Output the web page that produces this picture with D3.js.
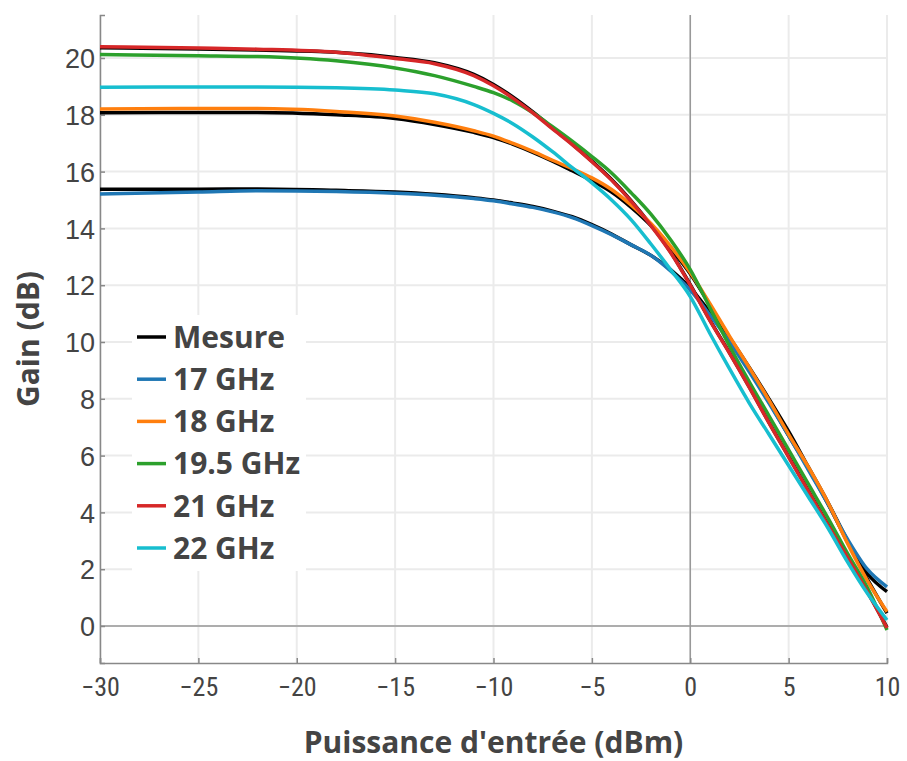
<!DOCTYPE html>
<html><head><meta charset="utf-8">
<script src="https://cdn.jsdelivr.net/npm/d3@7"></script>
<style>body{margin:0;background:#fff}svg{display:block}</style>
</head><body><svg id="c" width="907" height="761"></svg>
<script>
const pin = [-30,-25,-22,-18,-15,-13,-11,-10,-9,-8,-7,-6,-5,-4,-3,-2,-1,0,1,2,3,4,5,6,7,8,9,10];
const mesure17 = [15.38,15.38,15.39,15.34,15.28,15.2,15.08,15.0,14.89,14.77,14.61,14.41,14.13,13.8,13.42,13.05,12.55,11.9,11.05,10.15,9.1,8.0,6.85,5.6,4.35,3.0,1.85,1.21];
const mesure18 = [18.07,18.08,18.08,18.0,17.87,17.66,17.38,17.2,16.96,16.68,16.37,16.03,15.68,15.28,14.74,14.1,13.3,12.4,11.3,10.15,9.05,7.9,6.7,5.55,4.3,2.95,1.65,0.45];
const mesure21 = [20.36,20.32,20.28,20.2,20.02,19.83,19.42,19.07,18.62,18.1,17.53,16.97,16.37,15.72,14.97,14.12,13.17,12.02,10.77,9.62,8.42,7.17,5.97,4.77,3.57,2.42,1.22,-0.05];
const g17 = [15.21,15.28,15.33,15.3,15.24,15.17,15.05,14.97,14.86,14.74,14.58,14.38,14.1,13.78,13.42,13.05,12.5,11.83,10.95,10.0,8.95,7.85,6.7,5.5,4.3,3.05,2.0,1.38];
const g18 = [18.2,18.22,18.22,18.12,17.96,17.74,17.44,17.25,16.99,16.71,16.4,16.1,15.78,15.37,14.82,14.17,13.37,12.45,11.35,10.2,9.1,7.95,6.75,5.6,4.35,2.9,1.6,0.5];
const g195 = [20.12,20.08,20.05,19.9,19.65,19.38,19.0,18.78,18.48,18.07,17.58,17.07,16.53,15.95,15.25,14.5,13.6,12.55,11.2,9.85,8.6,7.4,6.2,5.0,3.8,2.55,1.35,-0.14];
const g21 = [20.40,20.35,20.31,20.2,19.98,19.8,19.38,19.02,18.58,18.07,17.5,16.95,16.35,15.7,14.95,14.1,13.15,12.0,10.75,9.6,8.4,7.15,5.95,4.75,3.55,2.4,1.2,-0.07];
const g22 = [18.97,18.98,18.98,18.95,18.87,18.74,18.36,18.05,17.68,17.22,16.7,16.14,15.6,15.0,14.3,13.45,12.55,11.6,10.3,9.05,7.85,6.75,5.65,4.55,3.45,2.25,1.15,0.21];
const xTicks = [-30,-25,-20,-15,-10,-5,0,5,10];
const yTicks = [0,2,4,6,8,10,12,14,16,18,20];
const legendLabels = ["Mesure","17 GHz","18 GHz","19.5 GHz","21 GHz","22 GHz"];
const legendColors = ["#000000","#1f77b4","#ff7f0e","#2ca02c","#d62728","#17becf"];
const series = [
  {v:mesure17,c:"#000000"},{v:mesure18,c:"#000000"},{v:mesure21,c:"#000000"},
  {v:g17,c:"#1f77b4"},{v:g18,c:"#ff7f0e"},{v:g195,c:"#2ca02c"},{v:g21,c:"#d62728"},{v:g22,c:"#17becf"}
];

const L=100,R=887,T=15,B=663;
const x=d3.scaleLinear().domain([-30,10]).range([L,R]);
const y=d3.scaleLinear().domain([-1.303,21.514]).range([B,T]);
const svg=d3.select("#c");

// grid
svg.append("g").selectAll("line").data(xTicks).join("line")
  .attr("x1",d=>x(d)).attr("x2",d=>x(d)).attr("y1",T).attr("y2",B)
  .attr("stroke","#ebebeb").attr("stroke-width",2);
svg.append("g").selectAll("line").data(yTicks).join("line")
  .attr("x1",L).attr("x2",R).attr("y1",d=>y(d)).attr("y2",d=>y(d))
  .attr("stroke","#ebebeb").attr("stroke-width",2);
// zero lines
svg.append("line").attr("x1",x(0)).attr("x2",x(0)).attr("y1",T).attr("y2",B).attr("stroke","#999").attr("stroke-width",1.5);
svg.append("line").attr("x1",L).attr("x2",R).attr("y1",y(0)).attr("y2",y(0)).attr("stroke","#999").attr("stroke-width",1.5);

// axes
const xa=svg.append("g").attr("transform",`translate(0,${B})`)
  .call(d3.axisBottom(x).tickValues(xTicks).tickSize(-5).tickPadding(15).tickFormat(d=>d<0?"\u2212"+Math.abs(d):d));
const ya=svg.append("g").attr("transform",`translate(${L},0)`)
  .call(d3.axisLeft(y).tickValues(yTicks).tickSize(-5).tickPadding(5));
[xa,ya].forEach(a=>{
  a.select(".domain").attr("stroke","#888").attr("stroke-width",1.5);
  a.selectAll(".tick line").attr("stroke","#888").attr("stroke-width",1.5);
  a.selectAll("text").attr("fill","#444");
});
xa.selectAll("text").attr("font-family","'Liberation Sans Narrow','Roboto Condensed','Liberation Sans',sans-serif").attr("font-size",26);
ya.selectAll("text").attr("font-family","'Liberation Sans',Arial,sans-serif").attr("font-size",27).attr("dy","0.36em");

// lines
const line=d3.line().x((d,i)=>x(pin[i])).y(d=>y(d)).curve(d3.curveMonotoneX);
svg.append("g").selectAll("path").data(series).join("path")
  .attr("d",d=>line(d.v)).attr("fill","none").attr("stroke",d=>d.c)
  .attr("stroke-width",3.5).attr("stroke-linejoin","round");

// legend
const lg=svg.append("g");
lg.append("rect").attr("x",132).attr("y",315).attr("width",174).attr("height",256).attr("fill","#fff");
const rows=lg.selectAll("g").data(legendLabels).join("g")
  .attr("transform",(d,i)=>`translate(0,${337+i*42.2})`);
rows.append("line").attr("x1",137).attr("x2",166).attr("y1",0).attr("y2",0)
  .attr("stroke",(d,i)=>legendColors[i]).attr("stroke-width",3.5);
rows.append("text").attr("x",173).attr("y",0).attr("dy","0.36em").text(d=>d)
  .attr("font-family","'Open Sans',sans-serif").attr("font-weight",700).attr("font-size",30).attr("fill","#444");

// axis titles
svg.append("text").attr("x",(L+R)/2).attr("y",753).attr("text-anchor","middle")
  .attr("font-family","'Open Sans',sans-serif").attr("font-weight",700).attr("font-size",30).attr("fill","#444")
  .text("Puissance d'entrée (dBm)");
svg.append("text").attr("transform",`translate(39,${(T+B)/2}) rotate(-90)`).attr("text-anchor","middle")
  .attr("font-family","'Open Sans',sans-serif").attr("font-weight",700).attr("font-size",30).attr("fill","#444")
  .text("Gain (dB)");
</script></body></html>
